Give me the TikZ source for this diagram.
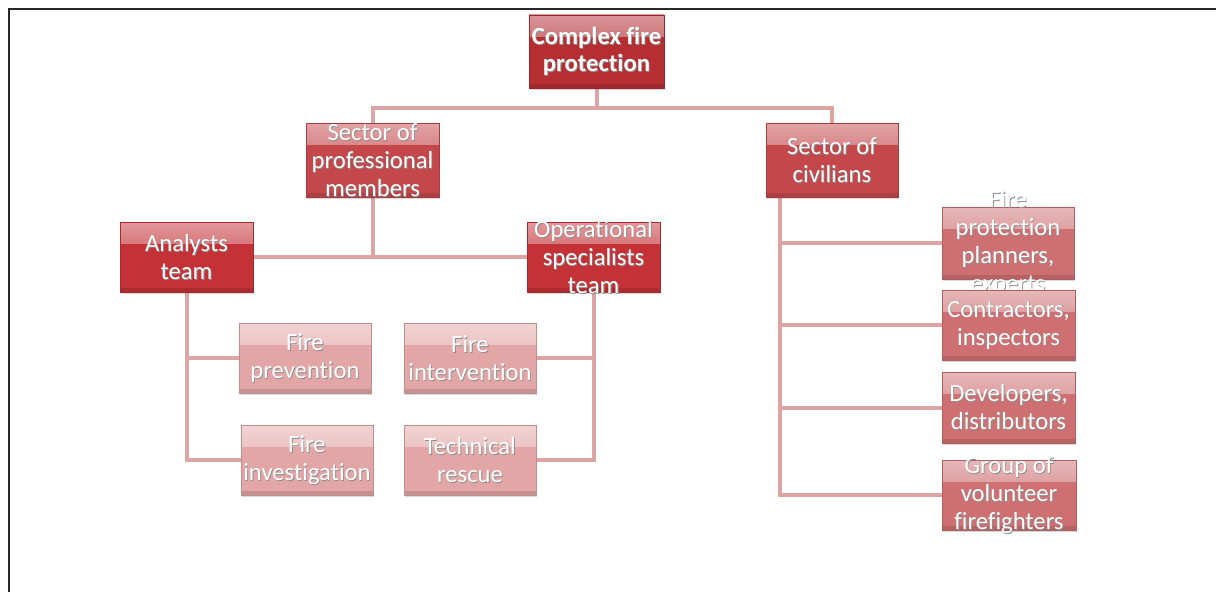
\documentclass[tikz,border=0pt]{standalone}
\usepackage{fontspec}
\setmainfont{Carlito}[Ligatures=CommonOff]
\usetikzlibrary{calc,shadows}
\pgfdeclarelayer{paper}
\pgfdeclarelayer{back}
\pgfsetlayers{paper,back,main}
\definecolor{cTop}{RGB}{180,46,50}
\definecolor{cSec}{RGB}{196,72,75}
\definecolor{cTeam}{RGB}{196,50,55}
\definecolor{cPink}{RGB}{226,166,166}
\definecolor{cRight}{RGB}{206,112,114}
\definecolor{cLine}{RGB}{221,164,164}
\definecolor{cFrame}{RGB}{40,40,40}
\begin{document}
\begin{tikzpicture}[x=0.75pt,y=-0.75pt,
  box/.style={rectangle, minimum width=99.75pt, minimum height=53.25pt, inner sep=0pt,
    fill=#1, draw=#1!85!black, line width=0.4pt,
    drop shadow={shadow xshift=0.8pt, shadow yshift=-1.6pt, opacity=.3},
    path picture={\shade[top color=white!50!#1, bottom color=#1]
      (path picture bounding box.north west) rectangle ([yshift=-16pt]path picture bounding box.north east);
      \fill[black, opacity=.12] ([yshift=3pt]path picture bounding box.south west) rectangle (path picture bounding box.south east);}},
  shd/.style={align=center, text=black!45, xshift=0.6pt, yshift=-0.6pt, font=\fontsize{18.5}{21}\selectfont},
  txt/.style={align=center, text=white, font=\fontsize{18.5}{21}\selectfont},
  lab/.style={label={[shd]center:#1}, label={[txt]center:#1}},
  bshd/.style={align=center, text=black!45, xshift=0.6pt, yshift=-0.6pt, font=\bfseries\fontsize{18.5}{20}\selectfont},
  btxt/.style={align=center, text=white, font=\bfseries\fontsize{18.5}{20}\selectfont},
  blab/.style={label={[bshd]center:#1}, label={[btxt]center:#1}},
  conn/.style={draw=cLine, line width=3pt}
]
\useasboundingbox (0,0) rectangle (1216,592);
\begin{pgfonlayer}{paper}
\fill[white] (0,0) rectangle (1216,592);
\draw[cFrame, line width=1.5pt] (9,592) -- (9,9) -- (1216,9);
\end{pgfonlayer}

\node[box=cTop, minimum width=101.25pt, minimum height=54.75pt, blab={Complex fire\\protection}] (T) at (596.5,51.5) {};
\node[box=cSec, minimum height=55.5pt, lab={Sector of\\professional\\members}] (P) at (372.5,160) {};
\node[box=cSec, lab={Sector of\\civilians}, minimum height=55.5pt, minimum width=99pt] (C) at (832,160) {};
\node[box=cTeam, minimum height=52.5pt, lab={Analysts\\team}] (A) at (186.5,257) {};
\node[box=cTeam, minimum height=52.5pt, lab={Operational\\specialists\\team}] (O) at (593.5,257) {};
\node[box=cPink, minimum height=52.5pt, minimum width=99pt, lab={Fire\\prevention}] (FP) at (305,358) {};
\node[box=cPink, minimum height=52.5pt, minimum width=99pt, lab={Fire\\intervention}] (FV) at (470,358) {};
\node[box=cPink, minimum height=52.5pt, minimum width=99pt, lab={Fire\\investigation}] (FI) at (307,460) {};
\node[box=cPink, minimum height=52.5pt, minimum width=99pt, lab={Technical\\rescue}] (TR) at (470,460) {};
\node[box=cRight, minimum height=54pt, minimum width=99pt, lab={Fire\\protection\\planners,\\experts}] (R1) at (1008,243) {};
\node[box=cRight, minimum height=52.5pt, lab={Contractors,\\inspectors}] (R2) at (1008.5,325) {};
\node[box=cRight, minimum height=53.25pt, lab={Developers,\\distributors}] (R3) at (1008.5,407.5) {};
\node[box=cRight, minimum height=52.5pt, minimum width=100.5pt, lab={Group of\\volunteer\\firefighters}] (R4) at (1009,495) {};

\coordinate (tj) at ($(T.south)+(0,20)$);
\coordinate (cs) at ($(C.south west)+(14,0)$);
\begin{pgfonlayer}{back}
\draw[conn] (T.south) -- (tj) -| (P.north);
\draw[conn] (tj) -| (C.north);
\draw[conn] (P.south) -- (P.south |- A.east);
\draw[conn] (A.east) -- (O.west);
\draw[conn] (A.south) |- (FI.west);
\draw[conn] (A.south |- FP.west) -- (FP.west);
\draw[conn] (O.south) |- (TR.east);
\draw[conn] (O.south |- FV.east) -- (FV.east);
\draw[conn] (cs) |- (R4.west);
\draw[conn] (cs |- R1.west) -- (R1.west);
\draw[conn] (cs |- R2.west) -- (R2.west);
\draw[conn] (cs |- R3.west) -- (R3.west);
\end{pgfonlayer}
\end{tikzpicture}
\end{document}
